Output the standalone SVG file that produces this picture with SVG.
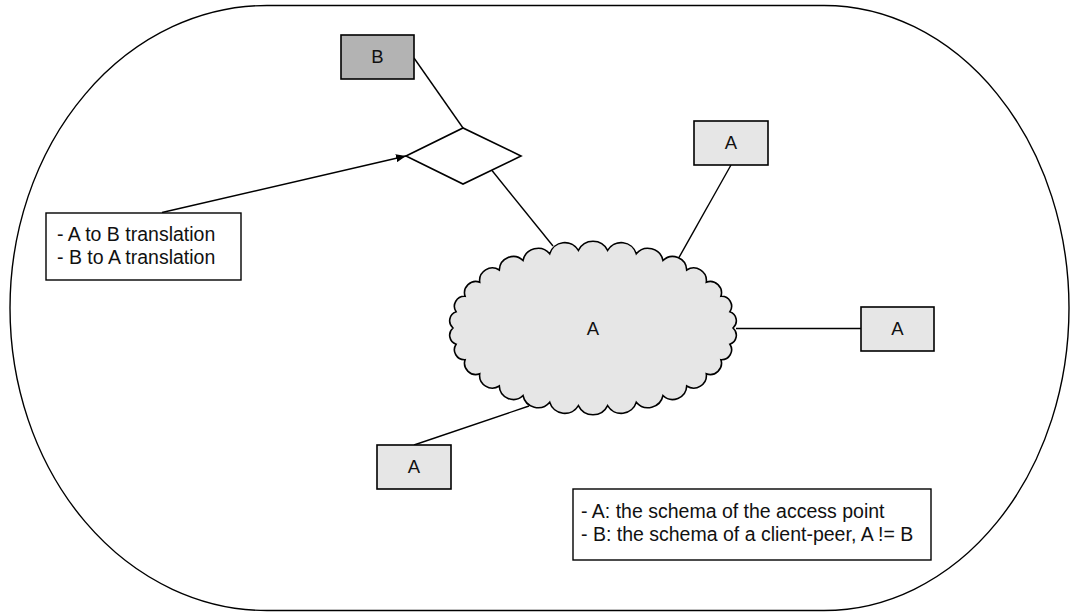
<svg xmlns="http://www.w3.org/2000/svg" width="1071" height="613" viewBox="0 0 1071 613">
  <defs>
    <style>
      .edge { stroke: #000; stroke-width: 1.4; fill: none; }
      .box { stroke: #000; stroke-width: 1.6; }
      .fill-a { fill: #e6e6e6; }
      .fill-b { fill: #b3b3b3; }
      .note { fill: #fff; stroke: #000; stroke-width: 1.4; }
      .lbl { font-family: "Liberation Sans", Arial, sans-serif; font-size: 18.5px; fill: #111; text-anchor: middle; }
      .txt { font-family: "Liberation Sans", Arial, sans-serif; font-size: 19.5px; fill: #111; }
    </style>
    <marker id="arrow" viewBox="0 0 10 8" refX="10" refY="4" markerWidth="10" markerHeight="8" markerUnits="userSpaceOnUse" orient="auto">
      <path d="M0,0 L10,4 L0,8 Z" fill="#000"/>
    </marker>
  </defs>

  <!-- outer domain boundary -->
  <g id="domain">
    <path class="edge" d="M267,5.5 H824 A245,302.5 0 0 1 824,610.5 H267 A257,302.5 0 0 1 267,5.5 Z"/>
  </g>

  <!-- connectors -->
  <g id="connectors">
    <line class="edge" x1="414" y1="58" x2="463" y2="128"/>
    <line class="edge" x1="492" y1="170.5" x2="553" y2="246"/>
    <line class="edge" x1="162" y1="212.5" x2="406" y2="156" marker-end="url(#arrow)"/>
    <line class="edge" x1="731" y1="165" x2="677" y2="261"/>
    <line class="edge" x1="736" y1="328.5" x2="861" y2="328.5"/>
    <line class="edge" x1="529" y1="406" x2="414" y2="445"/>
  </g>

  <!-- network cloud with schema A -->
  <g id="cloud">
    <path class="box fill-a" d="M733,328
      A9.5,9.5 0 0 1 729.9,344.2
      A10,10 0 0 1 720.9,359.7
      A11.3,11.3 0 0 1 706.3,373.8
      A12.7,12.7 0 0 1 686.7,386
      A14,14 0 0 1 663,395.5
      A15.3,15.3 0 0 1 636.3,402.2
      A15.8,15.8 0 0 1 607.6,405.6
      A16.2,16.2 0 0 1 578.4,405.6
      A15.8,15.8 0 0 1 549.7,402.2
      A15.3,15.3 0 0 1 523,395.5
      A14,14 0 0 1 499.3,386
      A12.7,12.7 0 0 1 479.7,373.8
      A11.3,11.3 0 0 1 465.1,359.7
      A10,10 0 0 1 456.1,344.2
      A9.5,9.5 0 0 1 453,328
      A9.5,9.5 0 0 1 456.1,311.8
      A10,10 0 0 1 465.1,296.3
      A11.3,11.3 0 0 1 479.7,282.2
      A12.7,12.7 0 0 1 499.3,270
      A14,14 0 0 1 523,260.5
      A15.3,15.3 0 0 1 549.7,253.8
      A15.8,15.8 0 0 1 578.4,250.4
      A16.2,16.2 0 0 1 607.6,250.4
      A15.8,15.8 0 0 1 636.3,253.8
      A15.3,15.3 0 0 1 663,260.5
      A14,14 0 0 1 686.7,270
      A12.7,12.7 0 0 1 706.3,282.2
      A11.3,11.3 0 0 1 720.9,296.3
      A10,10 0 0 1 729.9,311.8
      A9.5,9.5 0 0 1 733,328 Z"/>
    <text class="lbl" x="593" y="335">A</text>
  </g>

  <!-- translator -->
  <g id="translator">
    <polygon class="box" fill="#fff" points="406,156 463,128 521,156 463,184"/>
  </g>

  <!-- client peer with schema B -->
  <g id="peer-b">
    <rect class="box fill-b" x="341" y="35" width="73" height="44"/>
    <text class="lbl" x="377.5" y="63">B</text>
  </g>

  <!-- peers with schema A -->
  <g id="peer-a-top">
    <rect class="box fill-a" x="694" y="121" width="74" height="44"/>
    <text class="lbl" x="731" y="148.5">A</text>
  </g>
  <g id="peer-a-right">
    <rect class="box fill-a" x="861" y="307" width="73" height="44"/>
    <text class="lbl" x="897.5" y="335">A</text>
  </g>
  <g id="peer-a-bottom">
    <rect class="box fill-a" x="377" y="445" width="74" height="44"/>
    <text class="lbl" x="414" y="473">A</text>
  </g>

  <!-- translation note -->
  <g id="note-translation">
    <rect class="note" x="46" y="213" width="195" height="67"/>
    <text class="txt" x="57" y="241">- A to B translation</text>
    <text class="txt" x="57" y="263.5">- B to A translation</text>
  </g>

  <!-- legend -->
  <g id="note-legend">
    <rect class="note" x="573" y="489" width="358" height="71"/>
    <text class="txt" x="581" y="518">- A: the schema of the access point</text>
    <text class="txt" x="581" y="540.5">- B: the schema of a client-peer, A != B</text>
  </g>
</svg>
